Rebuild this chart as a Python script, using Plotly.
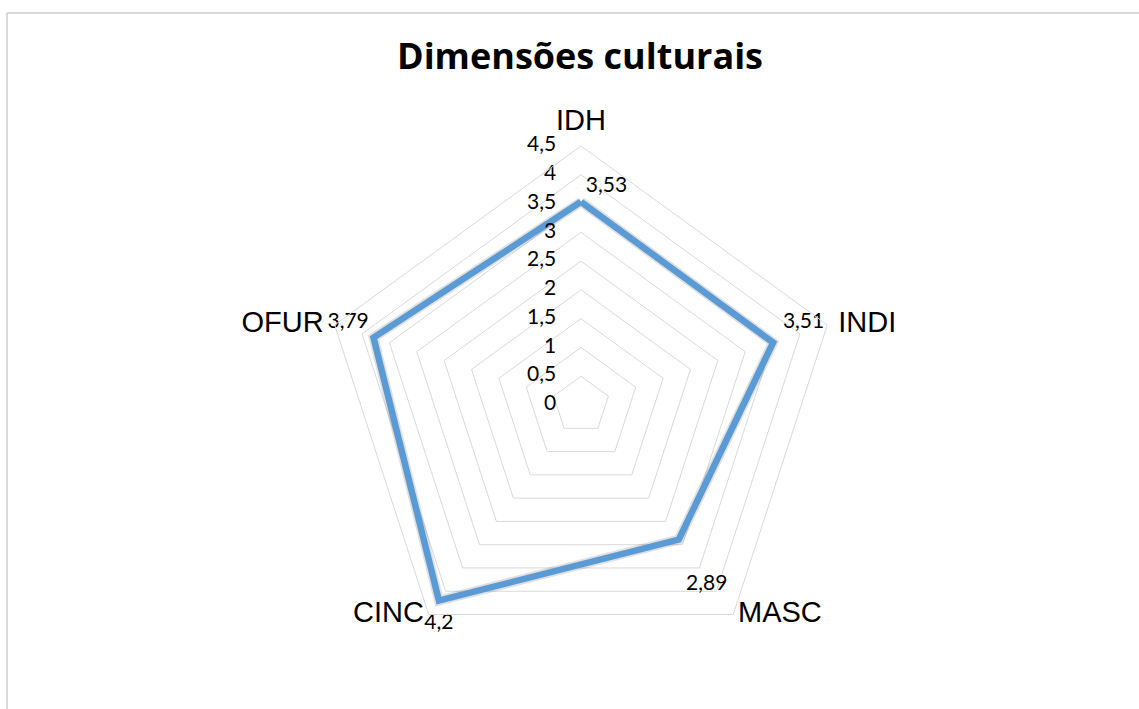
import plotly.graph_objects as go

categories = ["IDH", "INDI", "MASC", "CINC", "OFUR"]
values = [3.53, 3.51, 2.89, 4.2, 3.79]
value_labels = ["3,53", "3,51", "<br>2,89", "4,2", "3,79"]
tick_vals = [0, 0.5, 1, 1.5, 2, 2.5, 3, 3.5, 4, 4.5]
tick_text = ["0", "0,5", "1", "1,5", "2", "2,5", "3", "3,5", "4", "4,5"]
R_MAX = 4.5

# label placement styles (offsets via invisible marker size)
label_pos = ["top right", "top right", "bottom right", "bottom center", "top left"]
label_off = [6, 14, 10, 18, 6]
cat_label_pos = ["top center", "middle right", "middle right", "middle left", "middle left"]
cat_label_off = [12, 16, 6, 6, 16]
tick_label_off = 38

W, H = 1139, 709
cx, cy, R = 581, 405, 259

fig = go.Figure()
fig.add_trace(go.Scatterpolar(
    r=values + values[:1],
    theta=categories + categories[:1],
    mode="lines",
    line=dict(color="rgba(0,0,0,0.12)", width=10),
    hoverinfo="skip", showlegend=False,
))
fig.add_trace(go.Scatterpolar(
    r=values + values[:1],
    theta=categories + categories[:1],
    mode="lines",
    line=dict(color="#5B9BD5", width=6.5),
    showlegend=False,
))
# data labels
fig.add_trace(go.Scatterpolar(
    r=values, theta=categories, mode="markers+text",
    marker=dict(size=label_off, opacity=0, line=dict(width=0)),
    text=value_labels, textposition=label_pos,
    textfont=dict(family="Lato, Open Sans, sans-serif", size=21, color="#000000"),
    showlegend=False, hoverinfo="skip", cliponaxis=False,
))
# radial tick labels (left of the IDH spoke)
fig.add_trace(go.Scatterpolar(
    r=[max(v, 1e-6) for v in tick_vals], theta=[categories[0]] * len(tick_vals),
    mode="markers+text",
    marker=dict(size=tick_label_off, opacity=0, line=dict(width=0)),
    text=tick_text, textposition="middle left",
    textfont=dict(family="Lato, Open Sans, sans-serif", size=21, color="#000000"),
    showlegend=False, hoverinfo="skip", cliponaxis=False,
))
# category labels
fig.add_trace(go.Scatterpolar(
    r=[R_MAX] * len(categories), theta=categories, mode="markers+text",
    marker=dict(size=cat_label_off, opacity=0, line=dict(width=0)),
    text=categories, textposition=cat_label_pos,
    textfont=dict(family="Liberation Sans, Arial, sans-serif", size=29, color="#000000"),
    showlegend=False, hoverinfo="skip", cliponaxis=False,
))

fig.update_layout(
    width=W, height=H,
    margin=dict(l=0, r=0, t=0, b=0),
    paper_bgcolor="white",
    title=dict(text="<b>Dimensões culturais</b>", x=580 / W, xanchor="center",
               y=1 - 56 / H, yanchor="middle",
               font=dict(family="Open Sans, sans-serif", size=36, color="#000000")),
    polar=dict(
        domain=dict(x=[(cx - R) / W, (cx + R) / W], y=[(H - cy - R) / H, (H - cy + R) / H]),
        bgcolor="white",
        gridshape="linear",
        radialaxis=dict(
            range=[0, R_MAX], tickvals=tick_vals,
            angle=90, showticklabels=False,
            showline=False, ticks="", gridcolor="#D9D9D9", gridwidth=1,
        ),
        angularaxis=dict(
            rotation=90, direction="clockwise",
            showgrid=False, showline=True, linecolor="#D9D9D9", linewidth=1,
            ticks="", showticklabels=False,
        ),
    ),
    shapes=[
        dict(type="line", xref="paper", yref="paper", x0=7 / W, x1=1, y0=1 - 13 / H, y1=1 - 13 / H,
             line=dict(color="#D9D9D9", width=2)),
        dict(type="line", xref="paper", yref="paper", x0=7 / W, x1=7 / W, y0=0, y1=1 - 13 / H,
             line=dict(color="#D9D9D9", width=2)),
    ],
)

fig.write_html("out.html", config={"displayModeBar": False},
               post_script="document.body.style.margin='0';")
